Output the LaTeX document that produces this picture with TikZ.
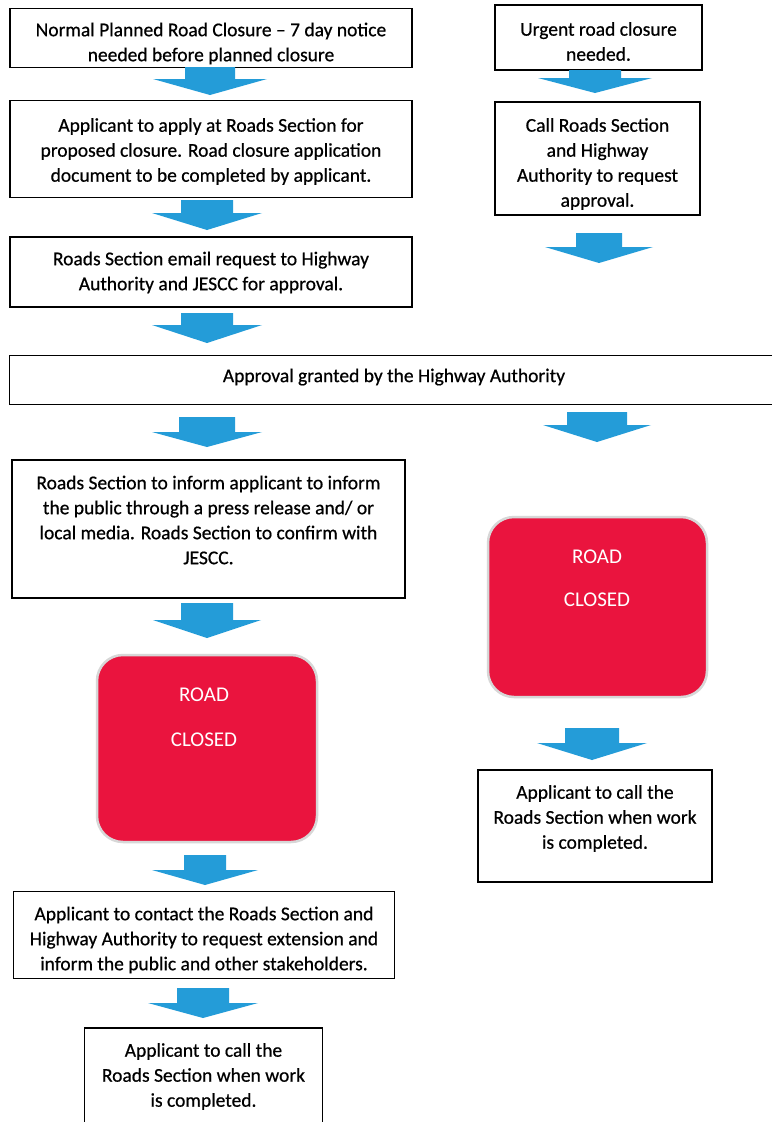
\documentclass[tikz,border=0pt]{standalone}
\usepackage{fontspec}
\setmainfont{Carlito}
\newfontfamily\scanfont{Carlito}[FakeBold=0.6,Ligatures=TeX]
\definecolor{arrowblue}{RGB}{36,156,216}
\definecolor{roadred}{RGB}{234,20,62}
\definecolor{glowgray}{RGB}{215,215,215}
\tikzset{
  flowbox/.style={draw=black, line width=1.2pt, fill=white, inner sep=0pt},
  flowtext/.style={inner sep=0pt, align=center, font=\scanfont\fontsize{19.5}{25}\selectfont},
  redbox/.style={fill=roadred, draw=glowgray, line width=2.5pt, rounded corners=26pt, inner sep=0pt},
  redtext/.style={text=white, inner sep=0pt, font=\fontsize{21}{24}\selectfont},
  blockarrowfill/.style={fill=arrowblue}
}
% #1 centre x, #2 shaft top, #3 wing y, #4 tip y, #5 shaft half width, #6 wing half width
\newcommand\blockarrow[6]{%
  \fill[blockarrowfill] (#1-#5,#2) -- (#1+#5,#2) -- (#1+#5,#3) -- (#1+#6,#3)
    -- (#1,#4) -- (#1-#6,#3) -- (#1-#5,#3) -- cycle;}
\begin{document}
\begin{tikzpicture}[x=1pt,y=-1pt]
\useasboundingbox[fill=white] (0,0) rectangle (772,1122);

% ---------- left column ----------
\node[flowbox, minimum width=402pt, minimum height=59pt] (n1) at (211,38) {};
\node[flowtext] (n1t) at (211,43.5)
  {Normal Planned Road Closure – 7 day notice\\needed before planned closure};
\blockarrow{210}{67}{79}{95}{25}{57}

\node[flowbox, minimum width=402pt, minimum height=97pt] (n2) at (211,149) {};
\node[flowtext] (n2t) at (211,151.5)
  {Applicant to apply at Roads Section for\\proposed closure. Road closure application\\document to be completed by applicant.};
\blockarrow{207}{200}{213}{230}{26}{55}

\node[flowbox, minimum width=402pt, minimum height=70pt] (n3) at (211,272) {};
\node[flowtext] (n3t) at (211,272.5)
  {Roads Section email request to Highway\\Authority and JESCC for approval.};
\blockarrow{207}{313}{325}{343}{26}{55}

% wide approval box, open on the right
\node[inner sep=0pt, minimum width=762pt, minimum height=48pt] (n4) at (391,380) {};
\draw[line width=1.2pt] (n4.north east) -- (n4.north west) -- (n4.south west) -- (n4.south east);
\node[flowtext] (n4t) at (394,377) {Approval granted by the Highway Authority};

\blockarrow{207}{417}{432}{447}{28}{55}

\node[flowbox, minimum width=393pt, minimum height=138pt] (n5) at (208.5,529) {};
\node[flowtext] (n5t) at (208.5,520)
  {Roads Section to inform applicant to inform\\the public through a press release and/ or\\local media. Roads Section to confirm with\\JESCC.};
\blockarrow{207}{603}{620}{638}{26}{54}

\node[redbox, minimum width=220pt, minimum height=187pt] (r1) at (207,748.5) {};
\node[redtext] (r1a) at (204,695) {ROAD};
\node[redtext] (r1b) at (204,740) {CLOSED};
\blockarrow{205}{855}{870}{885}{21}{53}

\node[flowbox, minimum width=381pt, minimum height=87pt] (n6) at (204,935) {};
\node[flowtext] (n6t) at (204,940)
  {Applicant to contact the Roads Section and\\Highway Authority to request extension and\\inform the public and other stakeholders.};
\blockarrow{203}{988}{1003}{1018}{26}{55}

% last box, open at the bottom (runs off the page)
\node[inner sep=0pt, minimum width=237pt, minimum height=94pt, anchor=north] (n7) at (203.5,1028) {};
\draw[line width=1.2pt] (n7.south west) -- (n7.north west) -- (n7.north east) -- (n7.south east);
\node[flowtext] (n7t) at (203.5,1076.5)
  {Applicant to call the\\Roads Section when work\\is completed.};

% ---------- right column ----------
\node[flowbox, minimum width=207pt, minimum height=65pt] (m1) at (598.5,37.5) {};
\node[flowtext] (m1t) at (598.5,41.5) {Urgent road closure\\needed.};
\blockarrow{595}{70}{78}{93}{26}{57}

\node[flowbox, minimum width=205pt, minimum height=113pt] (m2) at (597.5,158.5) {};
\node[flowtext] (m2t) at (597.5,164)
  {Call Roads Section\\and Highway\\Authority to request\\approval.};
\blockarrow{599}{233}{247}{263}{23}{54}

\blockarrow{597}{412}{425}{442}{30}{54}

\node[redbox, minimum width=219pt, minimum height=180pt] (r2) at (597.5,607) {};
\node[redtext] (r2a) at (597,557) {ROAD};
\node[redtext] (r2b) at (597,600) {CLOSED};
\blockarrow{592}{728}{743}{760}{27}{55}

\node[flowbox, minimum width=234pt, minimum height=112pt] (m3) at (595,826) {};
\node[flowtext] (m3t) at (595,818.5)
  {Applicant to call the\\Roads Section when work\\is completed.};
\end{tikzpicture}
\end{document}
